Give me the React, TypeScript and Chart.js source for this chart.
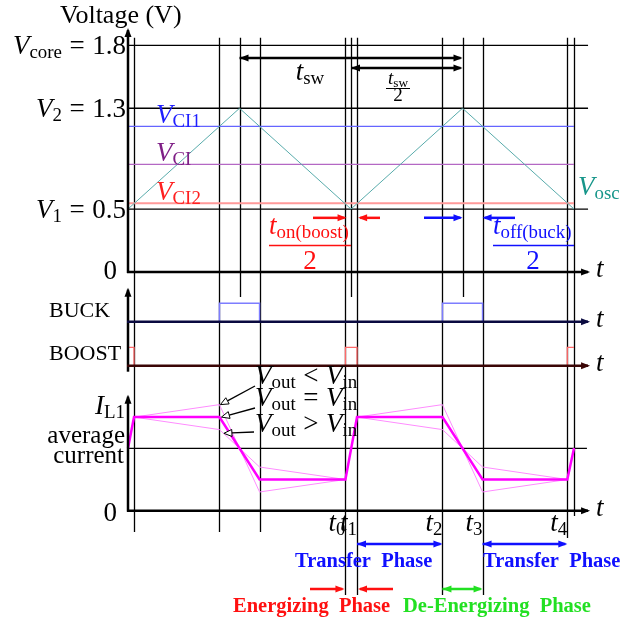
import React, { useEffect, useRef } from 'react';
import { Chart, registerables } from 'chart.js';
Chart.register(...registerables);

const W = 640;
const H = 623;
const SERIF = '"Liberation Serif", "Times New Roman", serif';

// ---- data (time in units of t_sw, voltage in V, current in units of the average current) ----
const oscTimes = [0, 0.5, 1, 1.5, 2];
const oscVolts = [0.5, 1.3, 0.5, 1.3, 0.5];
const levelSubs = ['core', '2', '1'];
const levelVolts = [1.8, 1.3, 0.5];
const levelTexts = ['1.8', '1.3', '0.5'];
const ctrlSubs = ['CI1', 'CI', 'CI2'];
const ctrlVolts = [1.156, 0.855, 0.545];
const eventTimes = [0.027, 0.41, 0.5, 0.59, 0.975, 1.0, 1.027, 1.41, 1.5, 1.59, 1.97, 2.0];
const buckTimes = [0, 0.41, 0.41, 0.59, 0.59, 1.41, 1.41, 1.59, 1.59, 2.0];
const buckLevels = [0, 0, 1, 1, 0, 0, 1, 1, 0, 0];
const boostTimes = [0, 0.027, 0.027, 0.975, 0.975, 1.027, 1.027, 1.97, 1.97, 2.0];
const boostLevels = [1, 1, 0, 0, 1, 1, 0, 0, 1, 1];
const currentTimes = [0, 0.027, 0.41, 0.59, 0.975, 1.027, 1.41, 1.59, 1.97, 2.0];
const currentEq = [1.0, 1.5, 1.5, 0.5, 0.5, 1.5, 1.5, 0.5, 0.5, 1.0];
const currentLt = [1.0, 1.5, 1.7, 0.3, 0.5, 1.5, 1.7, 0.3, 0.5, 1.0];
const currentGt = [1.0, 1.5, 1.3, 0.7, 0.5, 1.5, 1.3, 0.7, 0.5, 1.0];
const timeLabelSubs = ['0', '1', '2', '3', '4'];
const timeLabelTimes = [0.975, 1.027, 1.41, 1.59, 1.97];
const voutOps = ['<', '=', '>'];

// ---- layout ----
const X0PX = 128;
const PX_PER_T = 223;
const guideBottoms = [532, 532, 297, 532, 595, 297, 595, 595, 297, 595, 538, 516];
const AXIS_END_T = 2.072;
const REF_END_T = 2.063;

function yRange(p0: number, v0: number, p1: number, v1: number) {
  const k = (p0 - p1) / (v1 - v0);
  const max = v0 + p0 / k;
  return { min: max - H / k, max };
}

const pts = (xs: number[], ys: number[]) => xs.map((x, i) => ({ x, y: ys[i] }));

type Kind = 'i' | 'r' | 's' | 'op';
type Seg = [string, Kind];

function segFont(k: Kind, size: number) {
  if (k === 's') return `${size * 0.7}px ${SERIF}`;
  if (k === 'i') return `italic ${size}px ${SERIF}`;
  return `${size}px ${SERIF}`;
}
function richWidth(ctx: CanvasRenderingContext2D, segs: Seg[], size: number) {
  let w = 0;
  for (const [t, k] of segs) {
    ctx.font = segFont(k, size);
    w += ctx.measureText(t).width + (k === 'op' ? size * 0.56 : 0);
  }
  return w;
}
function drawRich(ctx: CanvasRenderingContext2D, segs: Seg[], x: number, y: number, size: number, color: string, align: 'left' | 'right' | 'center') {
  const total = richWidth(ctx, segs, size);
  let cx = align === 'left' ? x : align === 'right' ? x - total : x - total / 2;
  ctx.fillStyle = color;
  ctx.textAlign = 'left';
  ctx.textBaseline = 'alphabetic';
  for (const [t, k] of segs) {
    ctx.font = segFont(k, size);
    const pad = k === 'op' ? size * 0.28 : 0;
    const w = ctx.measureText(t).width;
    ctx.fillText(t, cx + pad, y + (k === 's' ? size * 0.15 : 0));
    cx += w + 2 * pad;
  }
  return total;
}
function plain(ctx: CanvasRenderingContext2D, t: string, x: number, y: number, font: string, color: string, align: CanvasTextAlign) {
  ctx.font = font;
  ctx.fillStyle = color;
  ctx.textAlign = align;
  ctx.textBaseline = 'alphabetic';
  ctx.fillText(t, x, y);
}
function head(ctx: CanvasRenderingContext2D, tx: number, ty: number, dx: number, dy: number, len: number, half: number, color: string, open: boolean) {
  const L = Math.hypot(dx, dy);
  const ux = dx / L, uy = dy / L;
  const bx = tx - ux * len, by = ty - uy * len;
  ctx.beginPath();
  ctx.moveTo(tx, ty);
  ctx.lineTo(bx - uy * half, by + ux * half);
  ctx.lineTo(bx + uy * half, by - ux * half);
  ctx.closePath();
  if (open) {
    ctx.fillStyle = '#fff';
    ctx.fill();
    ctx.strokeStyle = color;
    ctx.lineWidth = 1;
    ctx.stroke();
  } else {
    ctx.fillStyle = color;
    ctx.fill();
  }
}
function seg(ctx: CanvasRenderingContext2D, x1: number, y1: number, x2: number, y2: number, color: string, width: number) {
  ctx.strokeStyle = color;
  ctx.lineWidth = width;
  ctx.beginPath();
  ctx.moveTo(x1, y1);
  ctx.lineTo(x2, y2);
  ctx.stroke();
}
function arrow(ctx: CanvasRenderingContext2D, x1: number, y1: number, x2: number, y2: number, color: string, width: number, both: boolean, len = 9, half = 4, open = false) {
  const L = Math.hypot(x2 - x1, y2 - y1);
  const ux = (x2 - x1) / L, uy = (y2 - y1) / L;
  const sx = both && open ? x1 + ux * len : x1;
  const sy = both && open ? y1 + uy * len : y1;
  const ex = open ? x2 - ux * len : x2 - ux * 2;
  const ey = open ? y2 - uy * len : y2 - uy * 2;
  seg(ctx, sx, sy, ex, ey, color, width);
  head(ctx, x2, y2, x2 - x1, y2 - y1, len, half, color, open);
  if (both) head(ctx, x1, y1, x1 - x2, y1 - y2, len, half, color, open);
}

const overlay = {
  id: 'overlay',
  beforeDatasetsDraw(chart: any) {
    const ctx: CanvasRenderingContext2D = chart.ctx;
    const xs = chart.scales.x;
    const yv = chart.scales.y;
    ctx.save();
    const top = yv.getPixelForValue(1.86);
    eventTimes.forEach((t, i) => {
      const x = Math.round(xs.getPixelForValue(t)) + 0.5;
      seg(ctx, x, top, x, guideBottoms[i], '#000', 1.3);
    });
    ctx.restore();
  },
  afterDatasetsDraw(chart: any) {
    const ctx: CanvasRenderingContext2D = chart.ctx;
    const xs = chart.scales.x;
    const yv = chart.scales.y;
    const yb = chart.scales.buck;
    const yo = chart.scales.boost;
    const yc = chart.scales.cur;
    const X = (t: number) => xs.getPixelForValue(t);
    ctx.save();
    const ax = X(0);
    const axEnd = X(AXIS_END_T);
    const M = 27;

    // axes
    const y0 = yv.getPixelForValue(0);
    arrow(ctx, ax, y0 + 1, ax, 28, '#000', 2.5, false, 9, 3.5);
    arrow(ctx, ax - 1, y0, axEnd, y0, '#000', 2.5, false, 9, 3.5);
    const yBuck = yb.getPixelForValue(0);
    const yBoost = yo.getPixelForValue(0);
    arrow(ctx, ax, yBoost + 6, ax, yBuck - 34, '#000', 2.5, false, 9, 3.5);
    arrow(ctx, ax - 1, yBuck, axEnd, yBuck, '#0a0a40', 2.5, false, 9, 3.5);
    arrow(ctx, ax - 1, yBoost, axEnd, yBoost, '#3a0505', 2.5, false, 9, 3.5);
    const yc0 = yc.getPixelForValue(0);
    arrow(ctx, ax, yc0 + 1, ax, yc0 - 116, '#000', 2.5, false, 9, 3.5);
    arrow(ctx, ax - 1, yc0, axEnd, yc0, '#000', 2.5, false, 9, 3.5);

    // axis "t" labels
    [y0, yBuck, yBoost, yc0].forEach((yy) => drawRich(ctx, [['t', 'i']], 596, yy + 5, M, '#000', 'left'));

    // top panel labels
    plain(ctx, 'Voltage (V)', 60, 23, `26px ${SERIF}`, '#000', 'left');
    levelVolts.forEach((v, i) => {
      drawRich(ctx, [['V', 'i'], [levelSubs[i], 's'], ['=', 'op'], [levelTexts[i], 'r']], 126, yv.getPixelForValue(v) + 8.5, M, '#000', 'right');
    });
    drawRich(ctx, [['0', 'r']], 117, y0 + 7, M, '#000', 'right');
    const ctrlColors = ['#1f1fff', '#7f1f86', '#ff2020'];
    ctrlVolts.forEach((v, i) => {
      drawRich(ctx, [['V', 'i'], [ctrlSubs[i], 's']], 156, yv.getPixelForValue(v) - 3.5, M, ctrlColors[i], 'left');
    });
    drawRich(ctx, [['V', 'i'], ['osc', 's']], 578, 195, M, '#17968a', 'left');

    // t_sw arrows
    const ySw = yv.getPixelForValue(1.70);
    const ySw2 = yv.getPixelForValue(1.62);
    arrow(ctx, X(0.5), ySw, X(1.5), ySw, '#000', 2.5, true, 9, 3.5);
    arrow(ctx, X(1.0), ySw2, X(1.5), ySw2, '#000', 2.5, true, 9, 3.5);
    drawRich(ctx, [['t', 'i'], ['sw', 's']], 310, 80, M, '#000', 'center');
    drawRich(ctx, [['t', 'i'], ['sw', 's']], 398, 84, 19, '#000', 'center');
    seg(ctx, 386, 88.5, 410, 88.5, '#000', 1);
    drawRich(ctx, [['2', 'r']], 398, 101, 19, '#000', 'center');

    // t_on(boost)/2
    const yOn = yv.getPixelForValue(0.43);
    arrow(ctx, 313, yOn, X(0.98), yOn, '#ff1010', 2.5, false, 9, 3.5);
    arrow(ctx, 380, yOn, X(1.032), yOn, '#ff1010', 2.5, false, 9, 3.5);
    drawRich(ctx, [['t', 'i'], ['on(boost)', 's']], 269, 234, M, '#ff1010', 'left');
    seg(ctx, 269, 245.5, 351, 245.5, '#ff1010', 1.3);
    drawRich(ctx, [['2', 'r']], 310, 269, M, '#ff1010', 'center');

    // t_off(buck)/2
    arrow(ctx, 424, yOn, X(1.5), yOn, '#1010ff', 2.5, false, 9, 3.5);
    arrow(ctx, 515, yOn, X(1.59), yOn, '#1010ff', 2.5, false, 9, 3.5);
    drawRich(ctx, [['t', 'i'], ['off(buck)', 's']], 493, 234, M, '#1010ff', 'left');
    seg(ctx, 493, 245.5, 574, 245.5, '#1010ff', 1.3);
    drawRich(ctx, [['2', 'r']], 533, 269, M, '#1010ff', 'center');

    // middle panel labels
    plain(ctx, 'BUCK', 49, yBuck - 5, `22px ${SERIF}`, '#000', 'left');
    plain(ctx, 'BOOST', 49, yBoost - 5.5, `22px ${SERIF}`, '#000', 'left');

    // bottom panel labels
    drawRich(ctx, [['I', 'i'], ['L1', 's']], 95, 414, M, '#000', 'left');
    plain(ctx, 'average', 125, 443, `25px ${SERIF}`, '#000', 'right');
    plain(ctx, 'current', 124, 463, `25px ${SERIF}`, '#000', 'right');
    drawRich(ctx, [['0', 'r']], 117, yc0 + 10, M, '#000', 'right');

    // Vout annotations
    const voutY = [384, 406, 432];
    const arrowFrom = [[255, 386], [255, 408], [254, 432]];
    const arrowTo = [[X(0.41) + 1, yc.getPixelForValue(1.7)], [X(0.41) + 2, yc.getPixelForValue(1.5)], [X(0.43), yc.getPixelForValue(1.24)]];
    voutOps.forEach((op, i) => {
      arrow(ctx, arrowFrom[i][0], arrowFrom[i][1], arrowTo[i][0], arrowTo[i][1], '#000', 1.3, false, 8, 3.5, true);
    });
    voutOps.forEach((op, i) => {
      drawRich(ctx, [['V', 'i'], ['out', 's'], [op, 'op'], ['V', 'i'], ['in', 's']], 255, voutY[i], M, '#000', 'left');
    });

    // time labels
    timeLabelTimes.forEach((t, i) => {
      drawRich(ctx, [['t', 'i'], [timeLabelSubs[i], 's']], X(t), 531, M, '#000', 'right');
    });

    // phases
    const yTr = 544;
    arrow(ctx, X(1.027), yTr, X(1.41), yTr, '#1010ff', 2.5, true, 9, 3.5);
    arrow(ctx, X(1.59), yTr, X(1.97), yTr, '#1010ff', 2.5, true, 9, 3.5);
    plain(ctx, 'Transfer  Phase', 295, 566.5, `bold 20.5px ${SERIF}`, '#1010ff', 'left');
    plain(ctx, 'Transfer  Phase', 483, 566.5, `bold 20.5px ${SERIF}`, '#1010ff', 'left');
    const yEn = 589;
    arrow(ctx, 310, yEn, X(0.975) - 1, yEn, '#ff1010', 2.5, false, 9, 3.5);
    arrow(ctx, 393, yEn, X(1.027) + 1, yEn, '#ff1010', 2.5, false, 9, 3.5);
    arrow(ctx, X(1.41), yEn, X(1.59), yEn, '#22e022', 2.5, true, 9, 3.5);
    plain(ctx, 'Energizing  Phase', 233, 611.5, `bold 20.5px ${SERIF}`, '#ff1010', 'left');
    plain(ctx, 'De-Energizing  Phase', 403, 611.5, `bold 20.5px ${SERIF}`, '#22e022', 'left');

    ctx.restore();
  },
};

export default function App() {
  const ref = useRef<HTMLCanvasElement>(null);
  useEffect(() => {
    document.body.style.margin = '0';
    const line = (data: any[], color: string, width: number, yAxisID: string, order: number) => ({
      data,
      showLine: true,
      borderColor: color,
      backgroundColor: color,
      borderWidth: width,
      pointRadius: 0,
      pointHoverRadius: 0,
      fill: false,
      tension: 0,
      yAxisID,
      order,
    });
    const datasets: any[] = [];
    levelVolts.forEach((v) => datasets.push(line(pts([0, REF_END_T], [v, v]), '#000', 1.3, 'y', 20)));
    const ctrlLine = ['#6565ff', '#b468c4', '#ff9a9a'];
    const ctrlW = [1.2, 1.2, 2];
    ctrlVolts.forEach((v, i) => datasets.push(line(pts([0, 2.0], [v, v]), ctrlLine[i], ctrlW[i], 'y', 15)));
    datasets.push(line(pts(oscTimes, oscVolts), '#58abab', 1, 'y', 10));
    datasets.push(line(pts(buckTimes, buckLevels), '#7d7dff', 1.5, 'buck', 10));
    datasets.push(line(pts(boostTimes, boostLevels), '#ff6a6a', 1.3, 'boost', 10));
    datasets.push(line(pts([0, 2.058], [1, 1]), '#000', 1.3, 'cur', 20));
    datasets.push(line(pts(currentTimes, currentLt), '#ff8cff', 1, 'cur', 5));
    datasets.push(line(pts(currentTimes, currentGt), '#ff8cff', 1, 'cur', 5));
    datasets.push(line(pts(currentTimes, currentEq), '#ff00ff', 2.5, 'cur', 1));

    const xMin = -X0PX / PX_PER_T;
    const xMax = xMin + W / PX_PER_T;
    const rv = yRange(272, 0, 45.3, 1.8);
    const rb = yRange(321.7, 0, 303.3, 1);
    const ro = yRange(365.7, 0, 347.3, 1);
    const rc = yRange(510.7, 0, 448.3, 1);
    const hidden = (r: { min: number; max: number }) => ({ type: 'linear', display: false, min: r.min, max: r.max, bounds: 'data' });

    const chart = new Chart(ref.current as HTMLCanvasElement, {
      type: 'scatter',
      data: { datasets },
      options: {
        animation: false,
        responsive: false,
        devicePixelRatio: 1,
        layout: { padding: 0 },
        events: [],
        plugins: { legend: { display: false }, tooltip: { enabled: false } },
        scales: {
          x: { type: 'linear', display: false, min: xMin, max: xMax, bounds: 'data' },
          y: hidden(rv),
          buck: hidden(rb),
          boost: hidden(ro),
          cur: hidden(rc),
        },
      } as any,
      plugins: [overlay],
    });
    return () => chart.destroy();
  }, []);
  return (
    <div style={{ position: 'absolute', left: 0, top: 0, width: W, height: H, background: '#fff' }}>
      <canvas ref={ref} width={W} height={H} style={{ display: 'block', width: W, height: H }} />
    </div>
  );
}
